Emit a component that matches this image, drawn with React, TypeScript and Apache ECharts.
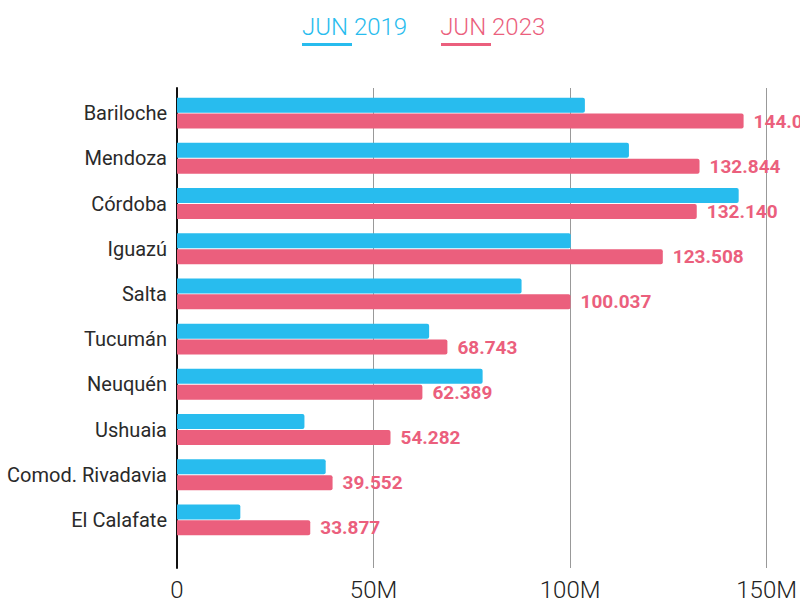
import React, { useEffect, useRef } from "react";
import * as echarts from "echarts";

const categories = [
  "Bariloche",
  "Mendoza",
  "Córdoba",
  "Iguazú",
  "Salta",
  "Tucumán",
  "Neuquén",
  "Ushuaia",
  "Comod. Rivadavia",
  "El Calafate",
];
const jun2019 = [103.7, 114.9, 142.8, 100.1, 87.6, 64.1, 77.7, 32.4, 37.8, 16.1];
const jun2023 = [144.05, 132.844, 132.14, 123.508, 100.037, 68.743, 62.389, 54.282, 39.552, 33.877];
const xTicks = [0, 50, 100, 150];
const seriesNames = ["JUN 2019", "JUN 2023"];

const BLUE = "#28bcee";
const RED = "#eb5f7d";
const FONT = "Roboto, 'Noto Sans', sans-serif";

export default function App() {
  const ref = useRef<HTMLDivElement>(null);
  useEffect(() => {
    if (!ref.current) return;
    const chart = echarts.init(ref.current, null, { renderer: "svg" });
    chart.setOption({
      animation: false,
      backgroundColor: "#fff",
      textStyle: { fontFamily: FONT },
      legend: {
        left: 292,
        top: 10,
        itemGap: 28,
        itemWidth: 0,
        itemHeight: 0,
        icon: "none",
        selectedMode: false,
        data: [
          { name: seriesNames[0], textStyle: { color: BLUE } },
          { name: seriesNames[1], textStyle: { color: RED } },
        ],
        textStyle: { fontSize: 24, fontWeight: 300, fontFamily: FONT },
      },
      graphic: [
        { type: "rect", shape: { x: 302, y: 43, width: 50, height: 3 }, style: { fill: BLUE } },
        { type: "rect", shape: { x: 441, y: 43, width: 50, height: 3 }, style: { fill: RED } },
      ],
      grid: [
        { left: 177, right: 33, top: 90.5, height: 452 },
        { left: 177, right: 33, top: 88, bottom: 36 },
      ],
      xAxis: [
        {
          gridIndex: 0,
          type: "value",
          min: 0,
          max: 150,
          interval: 50,
          show: false,
        },
        {
          gridIndex: 1,
          type: "value",
          min: 0,
          max: 150,
          interval: 50,
          axisLine: { show: false },
          axisTick: { show: false },
          splitLine: { show: true, lineStyle: { color: "#999", width: 1 } },
          axisLabel: {
            fontSize: 24,
            fontWeight: 300,
            color: "#222",
            margin: 10,
            fontFamily: FONT,
            formatter: (v: number) => (xTicks.includes(v) ? (v === 0 ? "0" : v + "M") : ""),
          },
        },
      ],
      yAxis: [
        {
          gridIndex: 0,
          type: "category",
          data: categories,
          inverse: true,
          axisLine: { show: false },
          axisTick: { show: false },
          axisLabel: { fontSize: 20, color: "#2a2a2a", margin: 10, fontFamily: FONT },
        },
        {
          gridIndex: 1,
          type: "value",
          min: 0,
          max: 1,
          axisLine: { show: true, lineStyle: { color: "#111", width: 2 } },
          axisTick: { show: false },
          axisLabel: { show: false },
          splitLine: { show: false },
        },
      ],
      series: [
        {
          name: seriesNames[0],
          type: "bar",
          xAxisIndex: 0,
          yAxisIndex: 0,
          data: jun2019,
          barWidth: 15,
          barGap: "6%",
          itemStyle: { color: BLUE, borderRadius: [0, 2, 2, 0] },
        },
        {
          name: seriesNames[1],
          type: "bar",
          xAxisIndex: 0,
          yAxisIndex: 0,
          data: jun2023,
          barWidth: 15,
          barGap: "6%",
          itemStyle: { color: RED, borderRadius: [0, 2, 2, 0] },
          label: {
            show: true,
            position: "right",
            distance: 10,
            color: RED,
            fontSize: 19,
            fontWeight: "bold",
            fontFamily: FONT,
            formatter: (p: any) => Number(p.value).toFixed(3),
          },
        },
      ],
    });
    return () => chart.dispose();
  }, []);
  return <div ref={ref} style={{ width: 800, height: 604, position: "absolute", left: 0, top: 0 }} />;
}
